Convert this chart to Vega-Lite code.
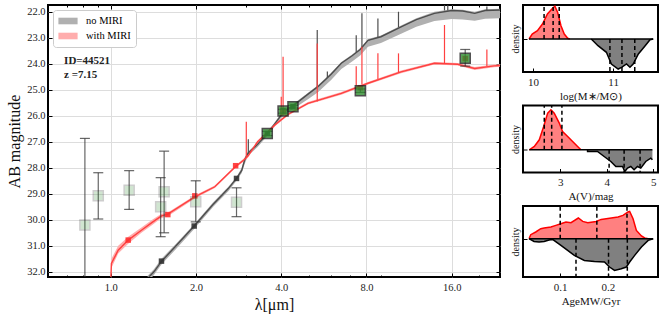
{
  "$schema": "https://vega.github.io/schema/vega-lite/v6.json",
  "padding": {"left": 5, "top": 2, "right": 5, "bottom": 5},
  "config": {
    "view": {"stroke": "black", "strokeWidth": 2},
    "font": "Liberation Serif",
    "axis": {"labelFont": "Liberation Serif", "titleFont": "Liberation Serif", "titleFontWeight": "normal", "labelColor": "#222", "titleColor": "#111", "domain": false, "tickColor": "#000", "labelOverlap": false, "labelFlush": false},
    "legend": {"labelFont": "Liberation Serif"}
  },
  "datasets": {
    "spec": [
      {"series": "no MIRI", "lam": 1.35, "mag": 32.25, "lo": 32.15, "hi": 32.4},
      {"series": "no MIRI", "lam": 1.42, "mag": 32.0, "lo": 31.9, "hi": 32.12},
      {"series": "no MIRI", "lam": 1.51, "mag": 31.6, "lo": 31.5, "hi": 31.72},
      {"series": "no MIRI", "lam": 1.7, "mag": 31.0, "lo": 30.92, "hi": 31.12},
      {"series": "no MIRI", "lam": 1.97, "mag": 30.24, "lo": 30.17, "hi": 30.35},
      {"series": "no MIRI", "lam": 2.3, "mag": 29.4, "lo": 29.33, "hi": 29.5},
      {"series": "no MIRI", "lam": 2.6, "mag": 28.8, "lo": 28.73, "hi": 28.9},
      {"series": "no MIRI", "lam": 2.78, "mag": 28.41, "lo": 28.35, "hi": 28.5},
      {"series": "no MIRI", "lam": 2.9, "mag": 28.1, "lo": 28.0, "hi": 28.2},
      {"series": "no MIRI", "lam": 2.97, "mag": 27.7, "lo": 27.6, "hi": 27.85},
      {"series": "no MIRI", "lam": 3.05, "mag": 27.45, "lo": 27.38, "hi": 27.55},
      {"series": "no MIRI", "lam": 3.3, "mag": 27.1, "lo": 27.03, "hi": 27.2},
      {"series": "no MIRI", "lam": 3.57, "mag": 26.68, "lo": 26.62, "hi": 26.78},
      {"series": "no MIRI", "lam": 3.8, "mag": 26.3, "lo": 26.24, "hi": 26.4},
      {"series": "no MIRI", "lam": 4.08, "mag": 25.85, "lo": 25.78, "hi": 25.95},
      {"series": "no MIRI", "lam": 4.4, "mag": 25.62, "lo": 25.56, "hi": 25.75},
      {"series": "no MIRI", "lam": 5.0, "mag": 25.15, "lo": 25.1, "hi": 25.35},
      {"series": "no MIRI", "lam": 5.39, "mag": 24.88, "lo": 24.83, "hi": 25.1},
      {"series": "no MIRI", "lam": 6.0, "mag": 24.4, "lo": 24.35, "hi": 24.62},
      {"series": "no MIRI", "lam": 6.52, "mag": 23.98, "lo": 23.93, "hi": 24.2},
      {"series": "no MIRI", "lam": 7.1, "mag": 23.7, "lo": 23.65, "hi": 23.92},
      {"series": "no MIRI", "lam": 7.6, "mag": 23.45, "lo": 23.4, "hi": 23.68},
      {"series": "no MIRI", "lam": 8.1, "mag": 23.1, "lo": 23.05, "hi": 23.35},
      {"series": "no MIRI", "lam": 9.0, "mag": 22.96, "lo": 22.91, "hi": 23.2},
      {"series": "no MIRI", "lam": 10.6, "mag": 22.58, "lo": 22.53, "hi": 22.85},
      {"series": "no MIRI", "lam": 12.0, "mag": 22.3, "lo": 22.25, "hi": 22.58},
      {"series": "no MIRI", "lam": 13.9, "mag": 22.06, "lo": 22.0, "hi": 22.36},
      {"series": "no MIRI", "lam": 16.0, "mag": 21.95, "lo": 21.9, "hi": 22.28},
      {"series": "no MIRI", "lam": 17.5, "mag": 21.97, "lo": 21.92, "hi": 22.3},
      {"series": "no MIRI", "lam": 19.3, "mag": 22.06, "lo": 22.0, "hi": 22.35},
      {"series": "no MIRI", "lam": 21.0, "mag": 21.95, "lo": 21.9, "hi": 22.27},
      {"series": "no MIRI", "lam": 24.0, "mag": 21.93, "lo": 21.88, "hi": 22.25},
      {"series": "with MIRI", "lam": 1.0, "mag": 32.3, "lo": 32.2, "hi": 32.4},
      {"series": "with MIRI", "lam": 1.005, "mag": 31.68, "lo": 31.5, "hi": 31.85},
      {"series": "with MIRI", "lam": 1.062, "mag": 31.17, "lo": 31.0, "hi": 31.3},
      {"series": "with MIRI", "lam": 1.152, "mag": 30.78, "lo": 30.65, "hi": 30.92},
      {"series": "with MIRI", "lam": 1.283, "mag": 30.4, "lo": 30.3, "hi": 30.5},
      {"series": "with MIRI", "lam": 1.4, "mag": 30.1, "lo": 30.0, "hi": 30.2},
      {"series": "with MIRI", "lam": 1.51, "mag": 29.85, "lo": 29.77, "hi": 29.93},
      {"series": "with MIRI", "lam": 1.59, "mag": 29.78, "lo": 29.72, "hi": 29.86},
      {"series": "with MIRI", "lam": 1.98, "mag": 29.12, "lo": 29.07, "hi": 29.18},
      {"series": "with MIRI", "lam": 2.33, "mag": 28.73, "lo": 28.68, "hi": 28.78},
      {"series": "with MIRI", "lam": 2.76, "mag": 27.95, "lo": 27.9, "hi": 28.0},
      {"series": "with MIRI", "lam": 2.95, "mag": 27.7, "lo": 27.64, "hi": 27.76},
      {"series": "with MIRI", "lam": 3.05, "mag": 27.55, "lo": 27.49, "hi": 27.61},
      {"series": "with MIRI", "lam": 3.3, "mag": 27.0, "lo": 26.95, "hi": 27.06},
      {"series": "with MIRI", "lam": 3.59, "mag": 26.62, "lo": 26.57, "hi": 26.67},
      {"series": "with MIRI", "lam": 3.79, "mag": 26.36, "lo": 26.31, "hi": 26.41},
      {"series": "with MIRI", "lam": 4.22, "mag": 25.95, "lo": 25.9, "hi": 26.0},
      {"series": "with MIRI", "lam": 4.97, "mag": 25.52, "lo": 25.47, "hi": 25.57},
      {"series": "with MIRI", "lam": 6.52, "mag": 25.14, "lo": 25.09, "hi": 25.19},
      {"series": "with MIRI", "lam": 8.1, "mag": 24.75, "lo": 24.7, "hi": 24.8},
      {"series": "with MIRI", "lam": 10.6, "mag": 24.31, "lo": 24.26, "hi": 24.36},
      {"series": "with MIRI", "lam": 13.9, "mag": 23.98, "lo": 23.93, "hi": 24.03},
      {"series": "with MIRI", "lam": 16.8, "mag": 24.02, "lo": 23.97, "hi": 24.07},
      {"series": "with MIRI", "lam": 19.3, "mag": 24.18, "lo": 24.12, "hi": 24.24},
      {"series": "with MIRI", "lam": 22.6, "mag": 24.08, "lo": 24.03, "hi": 24.13},
      {"series": "with MIRI", "lam": 24.0, "mag": 24.06, "lo": 24.01, "hi": 24.11}
    ],
    "spikes": [
      {"series": "no MIRI", "lam": 3.06, "base": 27.45, "peak": 26.9},
      {"series": "no MIRI", "lam": 5.36, "base": 24.9, "peak": 22.7},
      {"series": "no MIRI", "lam": 5.82, "base": 24.55, "peak": 24.3},
      {"series": "no MIRI", "lam": 7.36, "base": 23.55, "peak": 22.9},
      {"series": "no MIRI", "lam": 7.71, "base": 23.4, "peak": 22.06},
      {"series": "no MIRI", "lam": 8.2, "base": 23.1, "peak": 23.09},
      {"series": "no MIRI", "lam": 8.78, "base": 23.0, "peak": 22.26},
      {"series": "no MIRI", "lam": 10.38, "base": 22.6, "peak": 22.0},
      {"series": "no MIRI", "lam": 15.09, "base": 21.95, "peak": 21.75},
      {"series": "no MIRI", "lam": 15.5, "base": 21.95, "peak": 21.75},
      {"series": "no MIRI", "lam": 21.3, "base": 21.95, "peak": 21.8},
      {"series": "with MIRI", "lam": 3.01, "base": 27.6, "peak": 26.23},
      {"series": "with MIRI", "lam": 4.0, "base": 26.0, "peak": 25.27},
      {"series": "with MIRI", "lam": 4.06, "base": 25.98, "peak": 23.73},
      {"series": "with MIRI", "lam": 5.36, "base": 25.45, "peak": 23.22},
      {"series": "with MIRI", "lam": 7.36, "base": 24.85, "peak": 24.1},
      {"series": "with MIRI", "lam": 7.71, "base": 24.8, "peak": 23.35},
      {"series": "with MIRI", "lam": 8.78, "base": 24.6, "peak": 23.6},
      {"series": "with MIRI", "lam": 10.38, "base": 24.35, "peak": 23.6},
      {"series": "with MIRI", "lam": 15.09, "base": 23.98, "peak": 22.51},
      {"series": "with MIRI", "lam": 21.3, "base": 24.1, "peak": 23.45}
    ],
    "obs": [
      {"lam": 0.81, "mag": 30.2, "err_lo": 26.87, "err_hi": 34.0, "quality": "low"},
      {"lam": 0.903, "mag": 29.08, "err_lo": 28.19, "err_hi": 29.97, "quality": "low"},
      {"lam": 1.161, "mag": 28.86, "err_lo": 28.11, "err_hi": 29.6, "quality": "low"},
      {"lam": 1.5, "mag": 29.5, "err_lo": 28.38, "err_hi": 30.65, "quality": "low"},
      {"lam": 1.543, "mag": 28.92, "err_lo": 27.36, "err_hi": 30.5, "quality": "low"},
      {"lam": 1.995, "mag": 29.31, "err_lo": 28.5, "err_hi": 30.08, "quality": "low"},
      {"lam": 2.78, "mag": 29.33, "err_lo": 28.77, "err_hi": 29.88, "quality": "low"},
      {"lam": 3.57, "mag": 26.68, "err_lo": 26.6, "err_hi": 26.76, "quality": "high"},
      {"lam": 4.06, "mag": 25.82, "err_lo": 25.75, "err_hi": 25.9, "quality": "high"},
      {"lam": 4.4, "mag": 25.65, "err_lo": 25.6, "err_hi": 25.7, "quality": "high"},
      {"lam": 7.61, "mag": 25.04, "err_lo": 24.97, "err_hi": 25.1, "quality": "high"},
      {"lam": 17.86, "mag": 23.79, "err_lo": 23.45, "err_hi": 24.09, "quality": "high"}
    ],
    "model": [
      {"series": "no MIRI", "lam": 1.51, "mag": 31.59},
      {"series": "no MIRI", "lam": 1.97, "mag": 30.24},
      {"series": "no MIRI", "lam": 2.78, "mag": 28.41},
      {"series": "no MIRI", "lam": 3.57, "mag": 26.68},
      {"series": "no MIRI", "lam": 4.06, "mag": 25.8},
      {"series": "no MIRI", "lam": 4.4, "mag": 25.65},
      {"series": "with MIRI", "lam": 1.152, "mag": 30.78},
      {"series": "with MIRI", "lam": 1.59, "mag": 29.8},
      {"series": "with MIRI", "lam": 1.98, "mag": 29.08},
      {"series": "with MIRI", "lam": 2.76, "mag": 27.92},
      {"series": "with MIRI", "lam": 4.06, "mag": 25.85},
      {"series": "with MIRI", "lam": 7.61, "mag": 24.92},
      {"series": "with MIRI", "lam": 17.86, "mag": 23.8}
    ],
    "labels": [
      {"lam": 0.684, "mag": 23.9, "text": "ID=44521"},
      {"lam": 0.684, "mag": 24.43, "text": "z =7.15"}
    ],
    "mass": [
      {"series": "with MIRI", "val": 9.95, "dens": 0},
      {"series": "with MIRI", "val": 9.99, "dens": 5},
      {"series": "with MIRI", "val": 10.055, "dens": 8.3},
      {"series": "with MIRI", "val": 10.118, "dens": 15},
      {"series": "with MIRI", "val": 10.18, "dens": 25},
      {"series": "with MIRI", "val": 10.244, "dens": 30.7},
      {"series": "with MIRI", "val": 10.273, "dens": 32.7},
      {"series": "with MIRI", "val": 10.307, "dens": 26.7},
      {"series": "with MIRI", "val": 10.349, "dens": 13.3},
      {"series": "with MIRI", "val": 10.39, "dens": 5},
      {"series": "with MIRI", "val": 10.433, "dens": 0.7},
      {"series": "with MIRI", "val": 10.46, "dens": 0},
      {"series": "no MIRI", "val": 10.727, "dens": 0},
      {"series": "no MIRI", "val": 10.811, "dens": -6.7},
      {"series": "no MIRI", "val": 10.916, "dens": -13.3},
      {"series": "no MIRI", "val": 10.978, "dens": -25},
      {"series": "no MIRI", "val": 11.063, "dens": -30},
      {"series": "no MIRI", "val": 11.105, "dens": -28.3},
      {"series": "no MIRI", "val": 11.167, "dens": -25},
      {"series": "no MIRI", "val": 11.21, "dens": -28.3},
      {"series": "no MIRI", "val": 11.25, "dens": -25},
      {"series": "no MIRI", "val": 11.315, "dens": -15},
      {"series": "no MIRI", "val": 11.4, "dens": -6.7},
      {"series": "no MIRI", "val": 11.46, "dens": -0.7},
      {"series": "no MIRI", "val": 11.5, "dens": 0}
    ],
    "mass_pct": [
      {"series": "with MIRI", "val": 10.138}, {"series": "with MIRI", "val": 10.251}, {"series": "with MIRI", "val": 10.327},
      {"series": "no MIRI", "val": 10.96}, {"series": "no MIRI", "val": 11.11}, {"series": "no MIRI", "val": 11.27}
    ],
    "mass_span": [{"from": 9.95, "to": 11.5}],
    "av": [
      {"series": "with MIRI", "val": 2.335, "dens": 0},
      {"series": "with MIRI", "val": 2.443, "dens": 3.3},
      {"series": "with MIRI", "val": 2.55, "dens": 10},
      {"series": "with MIRI", "val": 2.644, "dens": 23.3},
      {"series": "with MIRI", "val": 2.73, "dens": 36.7},
      {"series": "with MIRI", "val": 2.8, "dens": 40},
      {"series": "with MIRI", "val": 2.871, "dens": 36.7},
      {"series": "with MIRI", "val": 2.979, "dens": 26.7},
      {"series": "with MIRI", "val": 3.05, "dens": 18.3},
      {"series": "with MIRI", "val": 3.159, "dens": 13.3},
      {"series": "with MIRI", "val": 3.266, "dens": 8.3},
      {"series": "with MIRI", "val": 3.373, "dens": 3.3},
      {"series": "with MIRI", "val": 3.444, "dens": 0},
      {"series": "no MIRI", "val": 3.586, "dens": 0},
      {"series": "no MIRI", "val": 3.587, "dens": -1.7},
      {"series": "no MIRI", "val": 3.8, "dens": -1.7},
      {"series": "no MIRI", "val": 3.943, "dens": -6.7},
      {"series": "no MIRI", "val": 4.087, "dens": -11.7},
      {"series": "no MIRI", "val": 4.194, "dens": -16.7},
      {"series": "no MIRI", "val": 4.338, "dens": -16.7},
      {"series": "no MIRI", "val": 4.387, "dens": -21.7},
      {"series": "no MIRI", "val": 4.445, "dens": -18.3},
      {"series": "no MIRI", "val": 4.516, "dens": -16.7},
      {"series": "no MIRI", "val": 4.586, "dens": -20},
      {"series": "no MIRI", "val": 4.659, "dens": -16.7},
      {"series": "no MIRI", "val": 4.73, "dens": -18.3},
      {"series": "no MIRI", "val": 4.837, "dens": -11.7},
      {"series": "no MIRI", "val": 4.944, "dens": -8.3},
      {"series": "no MIRI", "val": 4.98, "dens": -10}
    ],
    "av_pct": [
      {"series": "with MIRI", "val": 2.657}, {"series": "with MIRI", "val": 2.816}, {"series": "with MIRI", "val": 3.036},
      {"series": "no MIRI", "val": 4.05}, {"series": "no MIRI", "val": 4.372}, {"series": "no MIRI", "val": 4.715}
    ],
    "av_span": [{"from": 2.335, "to": 4.98}],
    "age": [
      {"series": "with MIRI", "val": 0.0346, "dens": 0},
      {"series": "with MIRI", "val": 0.0382, "dens": 4},
      {"series": "with MIRI", "val": 0.0487, "dens": 6.7},
      {"series": "with MIRI", "val": 0.0593, "dens": 10},
      {"series": "with MIRI", "val": 0.0663, "dens": 10.7},
      {"series": "with MIRI", "val": 0.0804, "dens": 11.7},
      {"series": "with MIRI", "val": 0.0909, "dens": 13.3},
      {"series": "with MIRI", "val": 0.1015, "dens": 15},
      {"series": "with MIRI", "val": 0.112, "dens": 16.7},
      {"series": "with MIRI", "val": 0.1226, "dens": 16},
      {"series": "with MIRI", "val": 0.138, "dens": 20.7},
      {"series": "with MIRI", "val": 0.1472, "dens": 17.3},
      {"series": "with MIRI", "val": 0.1578, "dens": 16},
      {"series": "with MIRI", "val": 0.1753, "dens": 17.3},
      {"series": "with MIRI", "val": 0.1859, "dens": 19.3},
      {"series": "with MIRI", "val": 0.207, "dens": 20.7},
      {"series": "with MIRI", "val": 0.2211, "dens": 21.7},
      {"series": "with MIRI", "val": 0.2316, "dens": 23.3},
      {"series": "with MIRI", "val": 0.2422, "dens": 26.7},
      {"series": "with MIRI", "val": 0.2456, "dens": 27.3},
      {"series": "with MIRI", "val": 0.2527, "dens": 20},
      {"series": "with MIRI", "val": 0.2597, "dens": 8.3},
      {"series": "with MIRI", "val": 0.2703, "dens": 2.7},
      {"series": "with MIRI", "val": 0.2772, "dens": 0.7},
      {"series": "with MIRI", "val": 0.2844, "dens": 0},
      {"series": "no MIRI", "val": 0.0346, "dens": 0},
      {"series": "no MIRI", "val": 0.0451, "dens": -2.7},
      {"series": "no MIRI", "val": 0.0557, "dens": -3.3},
      {"series": "no MIRI", "val": 0.0663, "dens": -2.7},
      {"series": "no MIRI", "val": 0.0768, "dens": -1.3},
      {"series": "no MIRI", "val": 0.084, "dens": -0.7},
      {"series": "no MIRI", "val": 0.1015, "dens": -6.7},
      {"series": "no MIRI", "val": 0.1156, "dens": -11.7},
      {"series": "no MIRI", "val": 0.1296, "dens": -16.7},
      {"series": "no MIRI", "val": 0.1506, "dens": -21.7},
      {"series": "no MIRI", "val": 0.1717, "dens": -22.7},
      {"series": "no MIRI", "val": 0.1928, "dens": -23.3},
      {"series": "no MIRI", "val": 0.2034, "dens": -28.3},
      {"series": "no MIRI", "val": 0.2139, "dens": -31.7},
      {"series": "no MIRI", "val": 0.228, "dens": -30},
      {"series": "no MIRI", "val": 0.2386, "dens": -28.3},
      {"series": "no MIRI", "val": 0.2456, "dens": -23.3},
      {"series": "no MIRI", "val": 0.2561, "dens": -16.7},
      {"series": "no MIRI", "val": 0.2703, "dens": -8.3},
      {"series": "no MIRI", "val": 0.2844, "dens": -1.7},
      {"series": "no MIRI", "val": 0.2949, "dens": 0}
    ],
    "age_pct": [
      {"series": "with MIRI", "val": 0.1}, {"series": "with MIRI", "val": 0.1768}, {"series": "with MIRI", "val": 0.24},
      {"series": "no MIRI", "val": 0.1331}, {"series": "no MIRI", "val": 0.2013}, {"series": "no MIRI", "val": 0.2407}
    ],
    "age_span": [{"from": 0.0346, "to": 0.2949}]
  },
  "hconcat": [
    {
      "width": 452,
      "height": 272,
      "resolve": {"axis": {"x": "independent", "y": "independent"}},
      "layer": [
        {
          "layer": [
            {
              "data": {"name": "spec"},
              "mark": {"type": "area", "clip": true, "opacity": 1},
              "encoding": {
                "x": {"field": "lam", "type": "quantitative", "scale": {"type": "log", "domain": [0.6, 23.7], "nice": false},
                  "axis": {"title": "λ[μm]", "titleFontSize": 16, "titlePadding": 2, "labelFontSize": 10.5, "labelPadding": 9, "tickCount": 30,
                    "values": [0.7, 0.8, 0.9, 1, 2, 3, 4, 5, 6, 7, 8, 9, 16, 20],
                    "labelExpr": "indexof([1,2,4,8,16], datum.value) >= 0 ? format(datum.value, '.1f') : ''",
                    "tickSize": {"condition": {"test": "indexof([1,2,4,8,16], datum.value) >= 0", "value": -4}, "value": -2},
                    "gridOpacity": {"condition": {"test": "indexof([1,2,4,8,16], datum.value) >= 0", "value": 1}, "value": 0},
                    "gridColor": "#dddddd"}},
                "y": {"field": "lo", "type": "quantitative", "scale": {"domain": [21.74, 32.2], "reverse": true, "nice": false, "zero": false},
                  "axis": {"title": "AB magnitude", "titleFontSize": 16, "labelFontSize": 10.5, "format": ".1f", "values": [22, 23, 24, 25, 26, 27, 28, 29, 30, 31, 32], "tickCount": 30,
                    "tickSize": -4, "labelPadding": 7, "gridColor": "#dddddd", "titlePadding": 4}},
                "y2": {"field": "hi"},
                "color": {"field": "series", "type": "nominal", "scale": {"domain": ["no MIRI", "with MIRI"], "range": ["#b0b0b0", "#ffadad"]},
                  "legend": {"title": null, "orient": "top-left", "offset": 5, "fillColor": "white", "strokeColor": "#cccccc", "cornerRadius": 3, "padding": 5,
                    "symbolType": "M-1.6,-0.55H1.6V0.55H-1.6Z", "symbolSize": 144, "symbolOpacity": 1, "symbolStrokeWidth": 0, "labelFontSize": 10.5, "rowPadding": 3, "labelOffset": 12, "symbolOffset": 4}}
              }
            },
            {
              "data": {"name": "spec"},
              "mark": {"type": "line", "clip": true, "strokeWidth": 1.4},
              "encoding": {
                "x": {"field": "lam", "type": "quantitative"},
                "y": {"field": "mag", "type": "quantitative"},
                "stroke": {"field": "series", "type": "nominal", "scale": {"domain": ["no MIRI", "with MIRI"], "range": ["#4d4d4d", "#ff4040"]}, "legend": null}
              }
            },
            {
              "data": {"name": "spikes"},
              "mark": {"type": "rule", "clip": true, "strokeWidth": 1.2},
              "encoding": {
                "x": {"field": "lam", "type": "quantitative"},
                "y": {"field": "base", "type": "quantitative"},
                "y2": {"field": "peak"},
                "stroke": {"field": "series", "type": "nominal", "legend": null}
              }
            },
            {
              "data": {"name": "model"},
              "mark": {"type": "point", "shape": "square", "filled": true, "size": 30, "clip": true, "opacity": 0.9},
              "encoding": {
                "x": {"field": "lam", "type": "quantitative"},
                "y": {"field": "mag", "type": "quantitative"},
                "fill": {"field": "series", "type": "nominal", "scale": {"domain": ["no MIRI", "with MIRI"], "range": ["#333333", "#ff3030"]}, "legend": null}
              }
            },
            {
              "data": {"name": "obs"},
              "mark": {"type": "rule", "clip": true, "strokeWidth": 1.2, "color": "#333333", "opacity": 0.75},
              "encoding": {
                "x": {"field": "lam", "type": "quantitative"},
                "y": {"field": "err_lo", "type": "quantitative"},
                "y2": {"field": "err_hi"}
              }
            },
            {
              "data": {"name": "obs"},
              "transform": [{"fold": ["err_lo", "err_hi"], "as": ["end", "cap"]}],
              "mark": {"type": "point", "shape": "M-1,0L1,0", "size": 100, "filled": false, "clip": true, "stroke": "#333333", "strokeWidth": 1.2, "opacity": 0.75},
              "encoding": {
                "x": {"field": "lam", "type": "quantitative"},
                "y": {"field": "cap", "type": "quantitative"}
              }
            },
            {
              "data": {"name": "obs"},
              "mark": {"type": "point", "shape": "square", "filled": true, "size": 100, "clip": true, "fill": "#2e8b2e", "stroke": "#222222", "strokeWidth": 1.5},
              "encoding": {
                "x": {"field": "lam", "type": "quantitative"},
                "y": {"field": "mag", "type": "quantitative"},
                "opacity": {"field": "quality", "type": "nominal", "scale": {"domain": ["low", "high"], "range": [0.22, 0.8]}, "legend": null}
              }
            },
            {
              "data": {"name": "labels"},
              "mark": {"type": "text", "align": "left", "baseline": "middle", "fontWeight": "bold", "fontSize": 11, "font": "Liberation Serif", "color": "#222"},
              "encoding": {
                "x": {"field": "lam", "type": "quantitative"},
                "y": {"field": "mag", "type": "quantitative"},
                "text": {"field": "text"}
              }
            }
          ]
        },
        {
          "data": {"name": "obs"},
          "mark": {"type": "point", "opacity": 0, "clip": true},
          "encoding": {
            "x": {"field": "lam", "type": "quantitative",
              "axis": {"orient": "top", "title": null, "labels": false, "grid": false, "tickCount": 30,
                "values": [0.7, 0.8, 0.9, 1, 2, 3, 4, 5, 6, 7, 8, 9, 16, 20],
                "tickSize": {"condition": {"test": "indexof([1,2,4,8,16], datum.value) >= 0", "value": -4}, "value": -2}}},
            "y": {"field": "mag", "type": "quantitative",
              "axis": {"orient": "right", "title": null, "labels": false, "grid": false, "tickCount": 30, "values": [22, 23, 24, 25, 26, 27, 28, 29, 30, 31, 32], "tickSize": -4}}
          }
        }
      ]
    },
    {
      "vconcat": [
        {
          "width": 135, "height": 67,
          "layer": [
            {"data": {"name": "mass"}, "mark": {"type": "area", "clip": true},
              "encoding": {
                "x": {"field": "val", "type": "quantitative", "scale": {"domain": [9.875, 11.56], "nice": false}, "axis": {"title": "log(M∗/M⊙)", "titleFontSize": 11, "labelFontSize": 11, "values": [10, 11], "format": "d", "grid": false, "tickSize": -4, "labelPadding": 8, "titlePadding": 3}},
                "y": {"field": "dens", "type": "quantitative", "scale": {"domain": [-33, 34], "nice": false, "zero": false}, "axis": {"title": "density", "titleFontSize": 10, "labels": false, "values": [0], "grid": false, "tickSize": -4, "titlePadding": 2}},
                "y2": {"datum": 0},
                "fill": {"field": "series", "type": "nominal", "scale": {"domain": ["no MIRI", "with MIRI"], "range": ["#808080", "#ff8080"]}, "legend": null},
                "detail": {"field": "series"}
              }},
            {"data": {"name": "mass"}, "mark": {"type": "line", "strokeWidth": 1.5},
              "encoding": {
                "x": {"field": "val", "type": "quantitative"},
                "y": {"field": "dens", "type": "quantitative"},
                "stroke": {"field": "series", "type": "nominal", "scale": {"domain": ["no MIRI", "with MIRI"], "range": ["#000000", "#ff0000"]}, "legend": null}
              }},
            {"data": {"name": "mass_span"}, "mark": {"type": "rule", "color": "black", "strokeWidth": 1.5},
              "encoding": {"x": {"field": "from", "type": "quantitative"}, "x2": {"field": "to"}, "y": {"datum": 0}}},
            {"data": {"name": "mass_pct"}, "transform": [{"filter": "datum.series == 'with MIRI'"}], "mark": {"type": "rule", "color": "black", "strokeWidth": 1.5, "strokeDash": [4, 3]},
              "encoding": {"x": {"field": "val", "type": "quantitative"}, "y": {"datum": 0}, "y2": {"datum": 34}}},
            {"data": {"name": "mass_pct"}, "transform": [{"filter": "datum.series == 'no MIRI'"}], "mark": {"type": "rule", "color": "black", "strokeWidth": 1.5, "strokeDash": [4, 3]},
              "encoding": {"x": {"field": "val", "type": "quantitative"}, "y": {"datum": 0}, "y2": {"datum": -33}}}
          ]
        },
        {
          "width": 135, "height": 67,
          "layer": [
            {"data": {"name": "av"}, "mark": {"type": "area", "clip": true},
              "encoding": {
                "x": {"field": "val", "type": "quantitative", "scale": {"domain": [2.2, 5.1], "nice": false}, "axis": {"title": "A(V)/mag", "titleFontSize": 11, "labelFontSize": 11, "values": [3, 4, 5], "format": "d", "grid": false, "tickSize": -4, "labelPadding": 8, "titlePadding": 3}},
                "y": {"field": "dens", "type": "quantitative", "scale": {"domain": [-22.7, 44.3], "nice": false, "zero": false}, "axis": {"title": "density", "titleFontSize": 10, "labels": false, "values": [0], "grid": false, "tickSize": -4, "titlePadding": 2}},
                "y2": {"datum": 0},
                "fill": {"field": "series", "type": "nominal", "scale": {"domain": ["no MIRI", "with MIRI"], "range": ["#808080", "#ff8080"]}, "legend": null},
                "detail": {"field": "series"}
              }},
            {"data": {"name": "av"}, "mark": {"type": "line", "strokeWidth": 1.5},
              "encoding": {
                "x": {"field": "val", "type": "quantitative"},
                "y": {"field": "dens", "type": "quantitative"},
                "stroke": {"field": "series", "type": "nominal", "scale": {"domain": ["no MIRI", "with MIRI"], "range": ["#000000", "#ff0000"]}, "legend": null}
              }},
            {"data": {"name": "av_span"}, "mark": {"type": "rule", "color": "black", "strokeWidth": 1.5},
              "encoding": {"x": {"field": "from", "type": "quantitative"}, "x2": {"field": "to"}, "y": {"datum": 0}}},
            {"data": {"name": "av_pct"}, "transform": [{"filter": "datum.series == 'with MIRI'"}], "mark": {"type": "rule", "color": "black", "strokeWidth": 1.5, "strokeDash": [4, 3]},
              "encoding": {"x": {"field": "val", "type": "quantitative"}, "y": {"datum": 0}, "y2": {"datum": 44.3}}},
            {"data": {"name": "av_pct"}, "transform": [{"filter": "datum.series == 'no MIRI'"}], "mark": {"type": "rule", "color": "black", "strokeWidth": 1.5, "strokeDash": [4, 3]},
              "encoding": {"x": {"field": "val", "type": "quantitative"}, "y": {"datum": 0}, "y2": {"datum": -22.7}}}
          ]
        },
        {
          "width": 135, "height": 71,
          "layer": [
            {"data": {"name": "age"}, "mark": {"type": "area", "clip": true},
              "encoding": {
                "x": {"field": "val", "type": "quantitative", "scale": {"domain": [0.022, 0.305], "nice": false}, "axis": {"title": "AgeMW/Gyr", "titleFontSize": 11, "labelFontSize": 11, "values": [0.1, 0.2], "format": ".1f", "grid": false, "tickSize": -4, "labelPadding": 8, "titlePadding": 3}},
                "y": {"field": "dens", "type": "quantitative", "scale": {"domain": [-38.3, 32.7], "nice": false, "zero": false}, "axis": {"title": "density", "titleFontSize": 10, "labels": false, "values": [0], "grid": false, "tickSize": -4, "titlePadding": 2}},
                "y2": {"datum": 0},
                "fill": {"field": "series", "type": "nominal", "scale": {"domain": ["no MIRI", "with MIRI"], "range": ["#808080", "#ff8080"]}, "legend": null},
                "detail": {"field": "series"}
              }},
            {"data": {"name": "age"}, "mark": {"type": "line", "strokeWidth": 1.5},
              "encoding": {
                "x": {"field": "val", "type": "quantitative"},
                "y": {"field": "dens", "type": "quantitative"},
                "stroke": {"field": "series", "type": "nominal", "scale": {"domain": ["no MIRI", "with MIRI"], "range": ["#000000", "#ff0000"]}, "legend": null}
              }},
            {"data": {"name": "age_span"}, "mark": {"type": "rule", "color": "black", "strokeWidth": 1.5},
              "encoding": {"x": {"field": "from", "type": "quantitative"}, "x2": {"field": "to"}, "y": {"datum": 0}}},
            {"data": {"name": "age_pct"}, "transform": [{"filter": "datum.series == 'with MIRI'"}], "mark": {"type": "rule", "color": "black", "strokeWidth": 1.5, "strokeDash": [4, 3]},
              "encoding": {"x": {"field": "val", "type": "quantitative"}, "y": {"datum": 0}, "y2": {"datum": 32.7}}},
            {"data": {"name": "age_pct"}, "transform": [{"filter": "datum.series == 'no MIRI'"}], "mark": {"type": "rule", "color": "black", "strokeWidth": 1.5, "strokeDash": [4, 3]},
              "encoding": {"x": {"field": "val", "type": "quantitative"}, "y": {"datum": 0}, "y2": {"datum": -38.3}}}
          ]
        }
      ],
      "spacing": 33.5,
      "bounds": "flush",
      "resolve": {"scale": {"fill": "shared", "stroke": "shared"}}
    }
  ],
  "spacing": 23,
  "bounds": "flush",
  "resolve": {"scale": {"color": "independent", "stroke": "independent", "fill": "independent"}}
}
